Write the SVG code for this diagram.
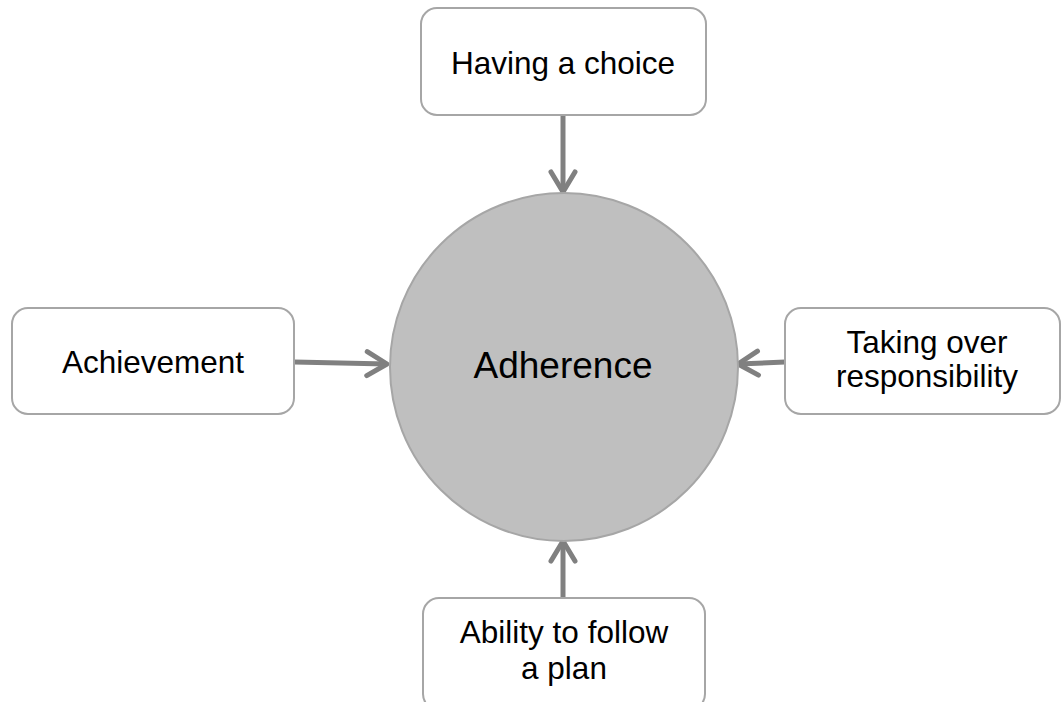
<svg xmlns="http://www.w3.org/2000/svg" width="1062" height="702" viewBox="0 0 1062 702">
  <style>
    .box { fill: #ffffff; stroke: #a6a6a6; stroke-width: 2; }
    .hub { fill: #bfbfbf; stroke: #a6a6a6; stroke-width: 2; }
    .lbl { font-family: "Liberation Sans", Arial, sans-serif; font-size: 31.5px; fill: #000000; text-anchor: middle; }
    .hub-lbl { font-family: "Liberation Sans", Arial, sans-serif; font-size: 37px; fill: #000000; text-anchor: middle; }
    .conn { fill: none; stroke: #808080; stroke-width: 5; marker-end: url(#chev); }
  </style>
  <defs>
    <marker id="chev" markerUnits="userSpaceOnUse" markerWidth="40" markerHeight="40" viewBox="-30 -20 40 40" refX="0" refY="0" orient="auto" overflow="visible">
      <path d="M-20,-12 L0,0 L-20,12" fill="none" stroke="#808080" stroke-width="5" stroke-linecap="round" stroke-linejoin="round"/>
    </marker>
  </defs>
  <rect width="1062" height="702" fill="#ffffff"/>

  <g id="connectors">
    <path class="conn" d="M563,115 L563,192"/>
    <path class="conn" d="M294,362 L387,364"/>
    <path class="conn" d="M785,362 L738,364"/>
    <path class="conn" d="M563,598 L563,541"/>
  </g>

  <g id="adherence">
    <circle class="hub" cx="564" cy="367" r="174"/>
    <text class="hub-lbl" x="563" y="378">Adherence</text>
  </g>

  <g id="having-a-choice">
    <rect class="box" x="421" y="8" width="285" height="107" rx="16"/>
    <text class="lbl" x="563" y="74">Having a choice</text>
  </g>

  <g id="achievement">
    <rect class="box" x="12" y="308" width="282" height="106" rx="16"/>
    <text class="lbl" x="153" y="373">Achievement</text>
  </g>

  <g id="taking-over-responsibility">
    <rect class="box" x="785" y="308" width="275" height="106" rx="16"/>
    <text class="lbl" x="927" y="353">Taking over</text>
    <text class="lbl" x="927" y="387">responsibility</text>
  </g>

  <g id="ability-to-follow-a-plan">
    <rect class="box" x="423" y="598" width="282" height="112" rx="16"/>
    <text class="lbl" x="564" y="643">Ability to follow</text>
    <text class="lbl" x="564" y="679">a plan</text>
  </g>
</svg>
